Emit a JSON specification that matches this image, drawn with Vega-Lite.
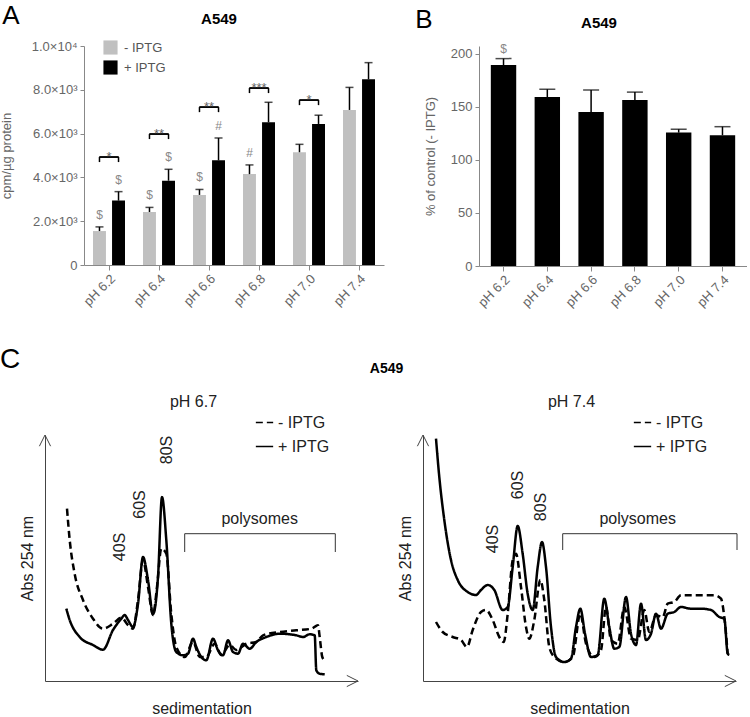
{
  "$schema": "https://vega.github.io/schema/vega-lite/v6.json",
  "padding": {"left": -20, "top": 3, "right": 0, "bottom": 0},
  "config": {
    "font": "Liberation Sans",
    "view": {"stroke": null},
    "axis": {"grid": false, "domainColor": "#888", "tickColor": "#888", "labelColor": "#666", "titleColor": "#666", "labelFont": "Liberation Sans", "titleFont": "Liberation Sans", "titleFontWeight": "normal"},
    "legend": {"labelFont": "Liberation Sans"},
    "title": {"font": "Liberation Sans", "color": "#000"}
  },
  "datasets": {
    "bars": [
      {"ph": "pH 6.2", "cond": "- IPTG", "value": 1550, "upper": 1740, "sig": "$"},
      {"ph": "pH 6.2", "cond": "+ IPTG", "value": 2940, "upper": 3350, "sig": "$"},
      {"ph": "pH 6.4", "cond": "- IPTG", "value": 2420, "upper": 2630, "sig": "$"},
      {"ph": "pH 6.4", "cond": "+ IPTG", "value": 3850, "upper": 4370, "sig": "$"},
      {"ph": "pH 6.6", "cond": "- IPTG", "value": 3200, "upper": 3450, "sig": "$"},
      {"ph": "pH 6.6", "cond": "+ IPTG", "value": 4780, "upper": 5800, "sig": "#"},
      {"ph": "pH 6.8", "cond": "- IPTG", "value": 4150, "upper": 4570, "sig": "#"},
      {"ph": "pH 6.8", "cond": "+ IPTG", "value": 6520, "upper": 7430, "sig": ""},
      {"ph": "pH 7.0", "cond": "- IPTG", "value": 5150, "upper": 5510, "sig": ""},
      {"ph": "pH 7.0", "cond": "+ IPTG", "value": 6440, "upper": 6840, "sig": ""},
      {"ph": "pH 7.4", "cond": "- IPTG", "value": 7080, "upper": 8110, "sig": ""},
      {"ph": "pH 7.4", "cond": "+ IPTG", "value": 8480, "upper": 9240, "sig": ""}
    ],
    "brk": [
      {"ph": "pH 6.2", "cond": "- IPTG", "y": 4930, "y2": 4700, "stars": "*"},
      {"ph": "pH 6.2", "cond": "+ IPTG", "y": 4930, "y2": 4700, "stars": "*"},
      {"ph": "pH 6.4", "cond": "- IPTG", "y": 5980, "y2": 5750, "stars": "**"},
      {"ph": "pH 6.4", "cond": "+ IPTG", "y": 5980, "y2": 5750, "stars": "**"},
      {"ph": "pH 6.6", "cond": "- IPTG", "y": 7210, "y2": 6980, "stars": "**"},
      {"ph": "pH 6.6", "cond": "+ IPTG", "y": 7210, "y2": 6980, "stars": "**"},
      {"ph": "pH 6.8", "cond": "- IPTG", "y": 8080, "y2": 7850, "stars": "***"},
      {"ph": "pH 6.8", "cond": "+ IPTG", "y": 8080, "y2": 7850, "stars": "***"},
      {"ph": "pH 7.0", "cond": "- IPTG", "y": 7530, "y2": 7300, "stars": "*"},
      {"ph": "pH 7.0", "cond": "+ IPTG", "y": 7530, "y2": 7300, "stars": "*"}
    ],
    "pct": [
      {"ph": "pH 6.2", "value": 189.6, "upper": 195.6, "sig": "$"},
      {"ph": "pH 6.4", "value": 159.4, "upper": 166.7, "sig": ""},
      {"ph": "pH 6.6", "value": 145.3, "upper": 166, "sig": ""},
      {"ph": "pH 6.8", "value": 156.6, "upper": 164, "sig": ""},
      {"ph": "pH 7.0", "value": 125.8, "upper": 129, "sig": ""},
      {"ph": "pH 7.4", "value": 123.3, "upper": 131.4, "sig": ""}
    ],
    "prof": [
      {"panel": "pH 6.7", "series": "+ IPTG", "x": 21.3, "y": 72.3},
      {"panel": "pH 6.7", "series": "+ IPTG", "x": 24.7, "y": 61},
      {"panel": "pH 6.7", "series": "+ IPTG", "x": 34.7, "y": 44},
      {"panel": "pH 6.7", "series": "+ IPTG", "x": 48, "y": 36},
      {"panel": "pH 6.7", "series": "+ IPTG", "x": 58, "y": 31.3},
      {"panel": "pH 6.7", "series": "+ IPTG", "x": 68, "y": 51},
      {"panel": "pH 6.7", "series": "+ IPTG", "x": 76.3, "y": 62.3},
      {"panel": "pH 6.7", "series": "+ IPTG", "x": 79.7, "y": 66},
      {"panel": "pH 6.7", "series": "+ IPTG", "x": 83, "y": 61},
      {"panel": "pH 6.7", "series": "+ IPTG", "x": 88, "y": 54},
      {"panel": "pH 6.7", "series": "+ IPTG", "x": 93, "y": 77},
      {"panel": "pH 6.7", "series": "+ IPTG", "x": 98, "y": 124},
      {"panel": "pH 6.7", "series": "+ IPTG", "x": 103, "y": 101},
      {"panel": "pH 6.7", "series": "+ IPTG", "x": 108, "y": 67},
      {"panel": "pH 6.7", "series": "+ IPTG", "x": 113, "y": 104},
      {"panel": "pH 6.7", "series": "+ IPTG", "x": 117, "y": 184},
      {"panel": "pH 6.7", "series": "+ IPTG", "x": 121.3, "y": 141},
      {"panel": "pH 6.7", "series": "+ IPTG", "x": 126.3, "y": 57.3},
      {"panel": "pH 6.7", "series": "+ IPTG", "x": 131.3, "y": 29},
      {"panel": "pH 6.7", "series": "+ IPTG", "x": 138, "y": 25.7},
      {"panel": "pH 6.7", "series": "+ IPTG", "x": 143, "y": 27.3},
      {"panel": "pH 6.7", "series": "+ IPTG", "x": 148, "y": 42.3},
      {"panel": "pH 6.7", "series": "+ IPTG", "x": 151.3, "y": 34},
      {"panel": "pH 6.7", "series": "+ IPTG", "x": 156.3, "y": 24},
      {"panel": "pH 6.7", "series": "+ IPTG", "x": 161.3, "y": 20.7},
      {"panel": "pH 6.7", "series": "+ IPTG", "x": 168, "y": 42.3},
      {"panel": "pH 6.7", "series": "+ IPTG", "x": 173, "y": 30.7},
      {"panel": "pH 6.7", "series": "+ IPTG", "x": 178, "y": 25.7},
      {"panel": "pH 6.7", "series": "+ IPTG", "x": 183, "y": 40.7},
      {"panel": "pH 6.7", "series": "+ IPTG", "x": 188, "y": 29},
      {"panel": "pH 6.7", "series": "+ IPTG", "x": 193, "y": 27.3},
      {"panel": "pH 6.7", "series": "+ IPTG", "x": 198, "y": 37.3},
      {"panel": "pH 6.7", "series": "+ IPTG", "x": 204.7, "y": 32.3},
      {"panel": "pH 6.7", "series": "+ IPTG", "x": 211.3, "y": 39},
      {"panel": "pH 6.7", "series": "+ IPTG", "x": 221.3, "y": 44},
      {"panel": "pH 6.7", "series": "+ IPTG", "x": 234.7, "y": 47.3},
      {"panel": "pH 6.7", "series": "+ IPTG", "x": 251.3, "y": 45.7},
      {"panel": "pH 6.7", "series": "+ IPTG", "x": 258, "y": 44},
      {"panel": "pH 6.7", "series": "+ IPTG", "x": 264.7, "y": 46.7},
      {"panel": "pH 6.7", "series": "+ IPTG", "x": 269.7, "y": 45.7},
      {"panel": "pH 6.7", "series": "+ IPTG", "x": 271.3, "y": 10.7},
      {"panel": "pH 6.7", "series": "+ IPTG", "x": 274.7, "y": 7.3},
      {"panel": "pH 6.7", "series": "+ IPTG", "x": 279.7, "y": 6.7},
      {"panel": "pH 6.7", "series": "- IPTG", "x": 22, "y": 172.3},
      {"panel": "pH 6.7", "series": "- IPTG", "x": 24.7, "y": 141},
      {"panel": "pH 6.7", "series": "- IPTG", "x": 29.7, "y": 107},
      {"panel": "pH 6.7", "series": "- IPTG", "x": 38, "y": 81},
      {"panel": "pH 6.7", "series": "- IPTG", "x": 48, "y": 62.3},
      {"panel": "pH 6.7", "series": "- IPTG", "x": 58, "y": 52.3},
      {"panel": "pH 6.7", "series": "- IPTG", "x": 68, "y": 57.3},
      {"panel": "pH 6.7", "series": "- IPTG", "x": 76.3, "y": 63.3},
      {"panel": "pH 6.7", "series": "- IPTG", "x": 83, "y": 56},
      {"panel": "pH 6.7", "series": "- IPTG", "x": 88, "y": 52.3},
      {"panel": "pH 6.7", "series": "- IPTG", "x": 93, "y": 81},
      {"panel": "pH 6.7", "series": "- IPTG", "x": 98, "y": 121},
      {"panel": "pH 6.7", "series": "- IPTG", "x": 103, "y": 94},
      {"panel": "pH 6.7", "series": "- IPTG", "x": 108, "y": 66},
      {"panel": "pH 6.7", "series": "- IPTG", "x": 112, "y": 94},
      {"panel": "pH 6.7", "series": "- IPTG", "x": 116.3, "y": 132.3},
      {"panel": "pH 6.7", "series": "- IPTG", "x": 121.3, "y": 127.3},
      {"panel": "pH 6.7", "series": "- IPTG", "x": 126.3, "y": 67},
      {"panel": "pH 6.7", "series": "- IPTG", "x": 131.3, "y": 34},
      {"panel": "pH 6.7", "series": "- IPTG", "x": 139.7, "y": 24},
      {"panel": "pH 6.7", "series": "- IPTG", "x": 148, "y": 39},
      {"panel": "pH 6.7", "series": "- IPTG", "x": 154.7, "y": 24},
      {"panel": "pH 6.7", "series": "- IPTG", "x": 161.3, "y": 24},
      {"panel": "pH 6.7", "series": "- IPTG", "x": 169.7, "y": 37.3},
      {"panel": "pH 6.7", "series": "- IPTG", "x": 176.3, "y": 26},
      {"panel": "pH 6.7", "series": "- IPTG", "x": 184.7, "y": 36},
      {"panel": "pH 6.7", "series": "- IPTG", "x": 191.3, "y": 31},
      {"panel": "pH 6.7", "series": "- IPTG", "x": 201.3, "y": 37.3},
      {"panel": "pH 6.7", "series": "- IPTG", "x": 211.3, "y": 39},
      {"panel": "pH 6.7", "series": "- IPTG", "x": 218, "y": 45.7},
      {"panel": "pH 6.7", "series": "- IPTG", "x": 234.7, "y": 49},
      {"panel": "pH 6.7", "series": "- IPTG", "x": 251.3, "y": 50.7},
      {"panel": "pH 6.7", "series": "- IPTG", "x": 266.3, "y": 52.3},
      {"panel": "pH 6.7", "series": "- IPTG", "x": 273, "y": 55.7},
      {"panel": "pH 6.7", "series": "- IPTG", "x": 274.7, "y": 44},
      {"panel": "pH 6.7", "series": "- IPTG", "x": 277.3, "y": 24},
      {"panel": "pH 6.7", "series": "- IPTG", "x": 279.7, "y": 20.7},
      {"panel": "pH 7.4", "series": "+ IPTG", "x": 13, "y": 242.3},
      {"panel": "pH 7.4", "series": "+ IPTG", "x": 16.3, "y": 204},
      {"panel": "pH 7.4", "series": "+ IPTG", "x": 21.3, "y": 161},
      {"panel": "pH 7.4", "series": "+ IPTG", "x": 28, "y": 121},
      {"panel": "pH 7.4", "series": "+ IPTG", "x": 34.7, "y": 101},
      {"panel": "pH 7.4", "series": "+ IPTG", "x": 44.7, "y": 89},
      {"panel": "pH 7.4", "series": "+ IPTG", "x": 53, "y": 86},
      {"panel": "pH 7.4", "series": "+ IPTG", "x": 58, "y": 91},
      {"panel": "pH 7.4", "series": "+ IPTG", "x": 64.7, "y": 96},
      {"panel": "pH 7.4", "series": "+ IPTG", "x": 71.3, "y": 91},
      {"panel": "pH 7.4", "series": "+ IPTG", "x": 79.7, "y": 71},
      {"panel": "pH 7.4", "series": "+ IPTG", "x": 84.7, "y": 74},
      {"panel": "pH 7.4", "series": "+ IPTG", "x": 89.7, "y": 114},
      {"panel": "pH 7.4", "series": "+ IPTG", "x": 94.7, "y": 155},
      {"panel": "pH 7.4", "series": "+ IPTG", "x": 99.7, "y": 127},
      {"panel": "pH 7.4", "series": "+ IPTG", "x": 104.7, "y": 87},
      {"panel": "pH 7.4", "series": "+ IPTG", "x": 109.7, "y": 71},
      {"panel": "pH 7.4", "series": "+ IPTG", "x": 114.7, "y": 114},
      {"panel": "pH 7.4", "series": "+ IPTG", "x": 119, "y": 139},
      {"panel": "pH 7.4", "series": "+ IPTG", "x": 123, "y": 114},
      {"panel": "pH 7.4", "series": "+ IPTG", "x": 128, "y": 54},
      {"panel": "pH 7.4", "series": "+ IPTG", "x": 133, "y": 24},
      {"panel": "pH 7.4", "series": "+ IPTG", "x": 141.3, "y": 19},
      {"panel": "pH 7.4", "series": "+ IPTG", "x": 148, "y": 22.3},
      {"panel": "pH 7.4", "series": "+ IPTG", "x": 153, "y": 54},
      {"panel": "pH 7.4", "series": "+ IPTG", "x": 157.3, "y": 72.3},
      {"panel": "pH 7.4", "series": "+ IPTG", "x": 162, "y": 47.3},
      {"panel": "pH 7.4", "series": "+ IPTG", "x": 168, "y": 24},
      {"panel": "pH 7.4", "series": "+ IPTG", "x": 174.7, "y": 26},
      {"panel": "pH 7.4", "series": "+ IPTG", "x": 181.3, "y": 82.3},
      {"panel": "pH 7.4", "series": "+ IPTG", "x": 186.3, "y": 54},
      {"panel": "pH 7.4", "series": "+ IPTG", "x": 191.3, "y": 32.3},
      {"panel": "pH 7.4", "series": "+ IPTG", "x": 196.3, "y": 34},
      {"panel": "pH 7.4", "series": "+ IPTG", "x": 203, "y": 84},
      {"panel": "pH 7.4", "series": "+ IPTG", "x": 208, "y": 47.3},
      {"panel": "pH 7.4", "series": "+ IPTG", "x": 213, "y": 36},
      {"panel": "pH 7.4", "series": "+ IPTG", "x": 218, "y": 77.3},
      {"panel": "pH 7.4", "series": "+ IPTG", "x": 223, "y": 41},
      {"panel": "pH 7.4", "series": "+ IPTG", "x": 228, "y": 47.3},
      {"panel": "pH 7.4", "series": "+ IPTG", "x": 233, "y": 67.3},
      {"panel": "pH 7.4", "series": "+ IPTG", "x": 238, "y": 52.3},
      {"panel": "pH 7.4", "series": "+ IPTG", "x": 244.7, "y": 67.3},
      {"panel": "pH 7.4", "series": "+ IPTG", "x": 251.3, "y": 69},
      {"panel": "pH 7.4", "series": "+ IPTG", "x": 258, "y": 74},
      {"panel": "pH 7.4", "series": "+ IPTG", "x": 268, "y": 72.3},
      {"panel": "pH 7.4", "series": "+ IPTG", "x": 278, "y": 72.3},
      {"panel": "pH 7.4", "series": "+ IPTG", "x": 288, "y": 71},
      {"panel": "pH 7.4", "series": "+ IPTG", "x": 296.3, "y": 64},
      {"panel": "pH 7.4", "series": "+ IPTG", "x": 301.3, "y": 62.3},
      {"panel": "pH 7.4", "series": "+ IPTG", "x": 304.7, "y": 27.3},
      {"panel": "pH 7.4", "series": "+ IPTG", "x": 306.3, "y": 26},
      {"panel": "pH 7.4", "series": "- IPTG", "x": 13, "y": 59},
      {"panel": "pH 7.4", "series": "- IPTG", "x": 19.7, "y": 49},
      {"panel": "pH 7.4", "series": "- IPTG", "x": 29.7, "y": 44},
      {"panel": "pH 7.4", "series": "- IPTG", "x": 38, "y": 41},
      {"panel": "pH 7.4", "series": "- IPTG", "x": 44, "y": 34},
      {"panel": "pH 7.4", "series": "- IPTG", "x": 49.7, "y": 51},
      {"panel": "pH 7.4", "series": "- IPTG", "x": 58, "y": 69},
      {"panel": "pH 7.4", "series": "- IPTG", "x": 63, "y": 71},
      {"panel": "pH 7.4", "series": "- IPTG", "x": 69.7, "y": 61},
      {"panel": "pH 7.4", "series": "- IPTG", "x": 76.3, "y": 44},
      {"panel": "pH 7.4", "series": "- IPTG", "x": 80.7, "y": 39},
      {"panel": "pH 7.4", "series": "- IPTG", "x": 84.7, "y": 67.3},
      {"panel": "pH 7.4", "series": "- IPTG", "x": 89.7, "y": 121},
      {"panel": "pH 7.4", "series": "- IPTG", "x": 93, "y": 127.3},
      {"panel": "pH 7.4", "series": "- IPTG", "x": 98, "y": 94},
      {"panel": "pH 7.4", "series": "- IPTG", "x": 103, "y": 54},
      {"panel": "pH 7.4", "series": "- IPTG", "x": 106.3, "y": 42.3},
      {"panel": "pH 7.4", "series": "- IPTG", "x": 111.3, "y": 61},
      {"panel": "pH 7.4", "series": "- IPTG", "x": 117.3, "y": 101},
      {"panel": "pH 7.4", "series": "- IPTG", "x": 121.3, "y": 81},
      {"panel": "pH 7.4", "series": "- IPTG", "x": 126.3, "y": 34},
      {"panel": "pH 7.4", "series": "- IPTG", "x": 131.3, "y": 24},
      {"panel": "pH 7.4", "series": "- IPTG", "x": 141.3, "y": 19},
      {"panel": "pH 7.4", "series": "- IPTG", "x": 149.7, "y": 24},
      {"panel": "pH 7.4", "series": "- IPTG", "x": 157.3, "y": 67.3},
      {"panel": "pH 7.4", "series": "- IPTG", "x": 163, "y": 37.3},
      {"panel": "pH 7.4", "series": "- IPTG", "x": 171.3, "y": 24},
      {"panel": "pH 7.4", "series": "- IPTG", "x": 178, "y": 31},
      {"panel": "pH 7.4", "series": "- IPTG", "x": 183, "y": 74},
      {"panel": "pH 7.4", "series": "- IPTG", "x": 188, "y": 41},
      {"panel": "pH 7.4", "series": "- IPTG", "x": 194.7, "y": 37.3},
      {"panel": "pH 7.4", "series": "- IPTG", "x": 201.3, "y": 74},
      {"panel": "pH 7.4", "series": "- IPTG", "x": 208, "y": 42.3},
      {"panel": "pH 7.4", "series": "- IPTG", "x": 214.7, "y": 41},
      {"panel": "pH 7.4", "series": "- IPTG", "x": 221.3, "y": 71},
      {"panel": "pH 7.4", "series": "- IPTG", "x": 226.3, "y": 49},
      {"panel": "pH 7.4", "series": "- IPTG", "x": 233, "y": 65.7},
      {"panel": "pH 7.4", "series": "- IPTG", "x": 239.7, "y": 64},
      {"panel": "pH 7.4", "series": "- IPTG", "x": 244.7, "y": 77.3},
      {"panel": "pH 7.4", "series": "- IPTG", "x": 251.3, "y": 79},
      {"panel": "pH 7.4", "series": "- IPTG", "x": 258, "y": 85.7},
      {"panel": "pH 7.4", "series": "- IPTG", "x": 268, "y": 85.7},
      {"panel": "pH 7.4", "series": "- IPTG", "x": 281.3, "y": 85.7},
      {"panel": "pH 7.4", "series": "- IPTG", "x": 291.3, "y": 85.7},
      {"panel": "pH 7.4", "series": "- IPTG", "x": 298, "y": 82.3},
      {"panel": "pH 7.4", "series": "- IPTG", "x": 301.3, "y": 64},
      {"panel": "pH 7.4", "series": "- IPTG", "x": 304.7, "y": 27.3}
    ],
    "lbl": [
      {"panel": "pH 6.7", "kind": "peak", "x": 75, "y": 134, "label": "40S"},
      {"panel": "pH 6.7", "kind": "peak", "x": 95.3, "y": 176.5, "label": "60S"},
      {"panel": "pH 6.7", "kind": "peak", "x": 122, "y": 231, "label": "80S"},
      {"panel": "pH 6.7", "kind": "poly", "x": 214.7, "y": 162, "label": "polysomes"},
      {"panel": "pH 7.4", "kind": "peak", "x": 69.7, "y": 142, "label": "40S"},
      {"panel": "pH 7.4", "kind": "peak", "x": 94.7, "y": 196, "label": "60S"},
      {"panel": "pH 7.4", "kind": "peak", "x": 118, "y": 174, "label": "80S"},
      {"panel": "pH 7.4", "kind": "poly", "x": 214.7, "y": 162, "label": "polysomes"}
    ],
    "brkC": [
      {"panel": "pH 6.7", "x": 139.7, "x2": 290.3, "y": 147.3, "y2": 147.3},
      {"panel": "pH 6.7", "x": 139.7, "x2": 139.7, "y": 147.3, "y2": 129},
      {"panel": "pH 6.7", "x": 290.3, "x2": 290.3, "y": 147.3, "y2": 129},
      {"panel": "pH 7.4", "x": 139.7, "x2": 314, "y": 147.3, "y2": 147.3},
      {"panel": "pH 7.4", "x": 139.7, "x2": 139.7, "y": 147.3, "y2": 131},
      {"panel": "pH 7.4", "x": 314, "x2": 314, "y": 147.3, "y2": 131}
    ],
    "arrows": [
      {"dir": "x", "x": 313, "y": 0},
      {"dir": "y", "x": 0, "y": 246}
    ]
  },
  "resolve": {"scale": {"color": "independent", "strokeDash": "independent", "shape": "independent"}, "legend": {"color": "independent", "strokeDash": "independent"}},
  "vconcat": [
    {
      "spacing": 0,
      "resolve": {"scale": {"color": "independent"}, "legend": {"color": "independent"}},
      "hconcat": [
        {"width": 0, "height": 0, "data": {"values": [{}]}, "mark": {"type": "point", "opacity": 0, "size": 0}},
        {
          "spacing": 31,
          "resolve": {"scale": {"color": "independent"}, "legend": {"color": "independent"}},
          "hconcat": [
            {
              "title": {"text": "A", "anchor": "start", "fontSize": 26, "fontWeight": "normal", "offset": -17, "dx": 2},
              "resolve": {"scale": {"color": "independent"}, "legend": {"color": "independent"}},
              "vconcat": [
                {
                  "title": {"text": "A549", "fontSize": 15, "fontWeight": "bold", "offset": 13, "dx": -15},
                  "width": 300,
                  "height": 219,
                  "data": {"name": "bars"},
                  "layer": [
                    {
                      "mark": {"type": "bar"},
                      "encoding": {
                        "x": {"field": "ph", "type": "nominal", "scale": {"domain": ["pH 6.2", "pH 6.4", "pH 6.6", "pH 6.8", "pH 7.0", "pH 7.4"], "paddingInner": 0.36, "paddingOuter": 0.18}, "axis": {"title": null, "labelAngle": -45, "labelFontSize": 13, "tickSize": 5, "labelPadding": 2}},
                        "xOffset": {"field": "cond", "type": "nominal", "scale": {"domain": ["- IPTG", "+ IPTG"], "paddingInner": 0.32}},
                        "y": {"field": "value", "type": "quantitative", "scale": {"domain": [0, 10000], "nice": false}, "axis": {"values": [0, 2000, 4000, 6000, 8000, 10000], "labelExpr": "datum.value == 0 ? '0' : datum.value == 10000 ? '1.0×10⁴' : format(datum.value / 1000, '.1f') + '×10³'", "title": "cpm/µg protein", "labelFontSize": 13, "titleFontSize": 13, "titlePadding": 18, "tickSize": 4, "labelPadding": 3}},
                        "color": {"field": "cond", "type": "nominal", "scale": {"domain": ["- IPTG", "+ IPTG"], "range": ["#c0c0c0", "#000000"]}, "legend": {"orient": "none", "legendX": 19, "legendY": -6, "title": null, "symbolType": "square", "symbolSize": 200, "symbolStrokeWidth": 0, "labelFontSize": 13, "labelColor": "#555", "rowPadding": 5, "labelOffset": 6, "padding": 0}}
                      }
                    },
                    {
                      "mark": {"type": "rule", "color": "#000", "strokeWidth": 1.5},
                      "encoding": {
                        "x": {"field": "ph", "type": "nominal"},
                        "xOffset": {"field": "cond", "type": "nominal", "scale": {"domain": ["- IPTG", "+ IPTG"], "paddingInner": 0.32}},
                        "y": {"field": "value", "type": "quantitative"},
                        "y2": {"field": "upper"}
                      }
                    },
                    {
                      "mark": {"type": "tick", "orient": "horizontal", "color": "#000", "thickness": 1.5, "size": 8},
                      "encoding": {
                        "x": {"field": "ph", "type": "nominal"},
                        "xOffset": {"field": "cond", "type": "nominal", "scale": {"domain": ["- IPTG", "+ IPTG"], "paddingInner": 0.32}},
                        "y": {"field": "upper", "type": "quantitative"}
                      }
                    },
                    {
                      "transform": [{"filter": "datum.sig != ''"}],
                      "mark": {"type": "text", "baseline": "alphabetic", "dy": -8, "fontSize": 12, "color": "#888"},
                      "encoding": {
                        "x": {"field": "ph", "type": "nominal"},
                        "xOffset": {"field": "cond", "type": "nominal", "scale": {"domain": ["- IPTG", "+ IPTG"], "paddingInner": 0.32}},
                        "y": {"field": "upper", "type": "quantitative"},
                        "text": {"field": "sig"}
                      }
                    },
                    {
                      "data": {"name": "brk"},
                      "mark": {"type": "rule", "color": "#000", "strokeWidth": 1.5},
                      "encoding": {
                        "x": {"field": "ph", "type": "nominal", "bandPosition": 0.2},
                        "x2": {"field": "ph", "bandPosition": 0.8},
                        "y": {"field": "y", "type": "quantitative"}
                      }
                    },
                    {
                      "data": {"name": "brk"},
                      "mark": {"type": "rule", "color": "#000", "strokeWidth": 1.5},
                      "encoding": {
                        "x": {"field": "ph", "type": "nominal"},
                        "xOffset": {"field": "cond", "type": "nominal", "scale": {"domain": ["- IPTG", "+ IPTG"], "paddingInner": 0.32}},
                        "y": {"field": "y", "type": "quantitative"},
                        "y2": {"field": "y2"}
                      }
                    },
                    {
                      "data": {"name": "brk"},
                      "transform": [{"filter": "datum.cond == '- IPTG'"}],
                      "mark": {"type": "text", "baseline": "alphabetic", "dy": 4, "fontSize": 13, "color": "#666"},
                      "encoding": {
                        "x": {"field": "ph", "type": "nominal"},
                        "y": {"field": "y", "type": "quantitative"},
                        "text": {"field": "stars"}
                      }
                    }
                  ]
                }
              ]
            },
            {
              "title": {"text": "B", "anchor": "start", "fontSize": 26, "fontWeight": "normal", "offset": -17, "dx": -9},
              "vconcat": [
                {
                  "title": {"text": "A549", "fontSize": 15, "fontWeight": "bold", "offset": 12, "dx": -14},
                  "width": 268,
                  "height": 220,
                  "data": {"name": "pct"},
                  "encoding": {
                    "x": {"field": "ph", "type": "nominal", "scale": {"domain": ["pH 6.2", "pH 6.4", "pH 6.6", "pH 6.8", "pH 7.0", "pH 7.4"], "paddingInner": 0.42, "paddingOuter": 0.27}, "axis": {"title": null, "labelAngle": -45, "labelFontSize": 13, "tickSize": 5, "labelPadding": 2}}
                  },
                  "layer": [
                    {
                      "mark": {"type": "bar", "color": "#000"},
                      "encoding": {
                        "y": {"field": "value", "type": "quantitative", "scale": {"domain": [0, 207.5], "nice": false}, "axis": {"values": [0, 50, 100, 150, 200], "title": "% of control (- IPTG)", "labelFontSize": 13, "titleFontSize": 13, "titlePadding": 13, "tickSize": 4, "labelPadding": 3}}
                      }
                    },
                    {
                      "mark": {"type": "rule", "color": "#000", "strokeWidth": 1.5},
                      "encoding": {
                        "y": {"field": "value", "type": "quantitative"},
                        "y2": {"field": "upper"}
                      }
                    },
                    {
                      "mark": {"type": "tick", "orient": "horizontal", "color": "#000", "thickness": 1.5, "size": 16},
                      "encoding": {
                        "y": {"field": "upper", "type": "quantitative"}
                      }
                    },
                    {
                      "transform": [{"filter": "datum.sig != ''"}],
                      "mark": {"type": "text", "baseline": "alphabetic", "dy": -6, "fontSize": 12, "color": "#888"},
                      "encoding": {
                        "y": {"field": "upper", "type": "quantitative"},
                        "text": {"field": "sig"}
                      }
                    }
                  ]
                }
              ]
            }
          ]
        }
      ]
    },
    {
      "spacing": 0,
      "resolve": {"scale": {"strokeDash": "independent", "shape": "independent"}, "legend": {"strokeDash": "independent"}},
      "hconcat": [
        {"width": 0, "height": 0, "data": {"values": [{}]}, "mark": {"type": "point", "opacity": 0, "size": 0}},
        {
          "title": {"text": "C", "anchor": "start", "fontSize": 28, "fontWeight": "normal", "offset": -12, "dx": -19},
          "resolve": {"scale": {"strokeDash": "independent", "shape": "independent"}, "legend": {"strokeDash": "independent"}},
          "vconcat": [
            {
              "title": {"text": "A549", "anchor": "middle", "fontSize": 14, "fontWeight": "bold", "offset": 18, "dx": 8},
              "spacing": 37,
              "resolve": {"scale": {"strokeDash": "independent", "shape": "independent"}, "legend": {"strokeDash": "independent"}},
              "hconcat": [
                {
                  "title": {"text": "pH 6.7", "fontSize": 16, "fontWeight": "normal", "color": "#222", "offset": 3, "dx": -8},
                  "width": 313,
                  "height": 246,
                  "layer": [
                    {
                      "data": {"name": "prof"},
                      "transform": [{"filter": "datum.panel == 'pH 6.7'"}],
                      "mark": {"type": "line", "strokeWidth": 2.5, "color": "#000", "interpolate": "monotone"},
                      "encoding": {
                        "x": {"field": "x", "type": "quantitative", "scale": {"domain": [0, 313], "nice": false, "zero": false}, "axis": {"title": "sedimentation", "labels": false, "ticks": false, "domainColor": "#444", "titleFontSize": 16, "titleColor": "#222", "titlePadding": 19}},
                        "y": {"field": "y", "type": "quantitative", "scale": {"domain": [0, 246], "nice": false, "zero": false}, "axis": {"title": "Abs 254 nm", "labels": false, "ticks": false, "domainColor": "#444", "titleFontSize": 16, "titleColor": "#222", "titlePadding": 10}},
                        "strokeDash": {"field": "series", "type": "nominal", "scale": {"domain": ["- IPTG", "+ IPTG"], "range": [[7, 4], [1, 0]]}, "legend": {"orient": "none", "legendX": 210, "legendY": -22, "title": null, "symbolType": "stroke", "symbolStrokeWidth": 1.5, "symbolSize": 300, "symbolStrokeColor": "#000", "labelFontSize": 16, "labelColor": "#222", "rowPadding": 6, "padding": 0}}
                      }
                    },
                    {
                      "data": {"name": "lbl"},
                      "transform": [{"filter": "datum.panel == 'pH 6.7' && datum.kind == 'peak'"}],
                      "mark": {"type": "text", "angle": 270, "fontSize": 16, "color": "#222", "baseline": "middle", "align": "center"},
                      "encoding": {"x": {"field": "x", "type": "quantitative"}, "y": {"field": "y", "type": "quantitative"}, "text": {"field": "label"}}
                    },
                    {
                      "data": {"name": "lbl"},
                      "transform": [{"filter": "datum.panel == 'pH 6.7' && datum.kind == 'poly'"}],
                      "mark": {"type": "text", "fontSize": 16, "color": "#222", "baseline": "middle", "align": "center"},
                      "encoding": {"x": {"field": "x", "type": "quantitative"}, "y": {"field": "y", "type": "quantitative"}, "text": {"field": "label"}}
                    },
                    {
                      "data": {"name": "brkC"},
                      "transform": [{"filter": "datum.panel == 'pH 6.7'"}],
                      "mark": {"type": "rule", "color": "#333", "strokeWidth": 1},
                      "encoding": {"x": {"field": "x", "type": "quantitative"}, "x2": {"field": "x2"}, "y": {"field": "y", "type": "quantitative"}, "y2": {"field": "y2"}}
                    },
                    {
                      "data": {"name": "arrows"},
                      "mark": {"type": "point", "filled": false, "size": 196, "stroke": "#444", "strokeWidth": 1, "opacity": 1},
                      "encoding": {"x": {"field": "x", "type": "quantitative"}, "y": {"field": "y", "type": "quantitative"}, "shape": {"field": "dir", "type": "nominal", "scale": {"domain": ["x", "y"], "range": ["M-1.6,-0.8L0,0L-1.6,0.8", "M-0.8,1.6L0,0L0.8,1.6"]}, "legend": null}}
                    }
                  ]
                },
                {
                  "title": {"text": "pH 7.4", "fontSize": 16, "fontWeight": "normal", "color": "#222", "offset": 3, "dx": -8},
                  "width": 313,
                  "height": 246,
                  "layer": [
                    {
                      "data": {"name": "prof"},
                      "transform": [{"filter": "datum.panel == 'pH 7.4'"}],
                      "mark": {"type": "line", "strokeWidth": 2.5, "color": "#000", "interpolate": "monotone"},
                      "encoding": {
                        "x": {"field": "x", "type": "quantitative", "scale": {"domain": [0, 313], "nice": false, "zero": false}, "axis": {"title": "sedimentation", "labels": false, "ticks": false, "domainColor": "#444", "titleFontSize": 16, "titleColor": "#222", "titlePadding": 19}},
                        "y": {"field": "y", "type": "quantitative", "scale": {"domain": [0, 246], "nice": false, "zero": false}, "axis": {"title": "Abs 254 nm", "labels": false, "ticks": false, "domainColor": "#444", "titleFontSize": 16, "titleColor": "#222", "titlePadding": 10}},
                        "strokeDash": {"field": "series", "type": "nominal", "scale": {"domain": ["- IPTG", "+ IPTG"], "range": [[7, 4], [1, 0]]}, "legend": {"orient": "none", "legendX": 210, "legendY": -22, "title": null, "symbolType": "stroke", "symbolStrokeWidth": 1.5, "symbolSize": 300, "symbolStrokeColor": "#000", "labelFontSize": 16, "labelColor": "#222", "rowPadding": 6, "padding": 0}}
                      }
                    },
                    {
                      "data": {"name": "lbl"},
                      "transform": [{"filter": "datum.panel == 'pH 7.4' && datum.kind == 'peak'"}],
                      "mark": {"type": "text", "angle": 270, "fontSize": 16, "color": "#222", "baseline": "middle", "align": "center"},
                      "encoding": {"x": {"field": "x", "type": "quantitative"}, "y": {"field": "y", "type": "quantitative"}, "text": {"field": "label"}}
                    },
                    {
                      "data": {"name": "lbl"},
                      "transform": [{"filter": "datum.panel == 'pH 7.4' && datum.kind == 'poly'"}],
                      "mark": {"type": "text", "fontSize": 16, "color": "#222", "baseline": "middle", "align": "center"},
                      "encoding": {"x": {"field": "x", "type": "quantitative"}, "y": {"field": "y", "type": "quantitative"}, "text": {"field": "label"}}
                    },
                    {
                      "data": {"name": "brkC"},
                      "transform": [{"filter": "datum.panel == 'pH 7.4'"}],
                      "mark": {"type": "rule", "color": "#333", "strokeWidth": 1},
                      "encoding": {"x": {"field": "x", "type": "quantitative"}, "x2": {"field": "x2"}, "y": {"field": "y", "type": "quantitative"}, "y2": {"field": "y2"}}
                    },
                    {
                      "data": {"name": "arrows"},
                      "mark": {"type": "point", "filled": false, "size": 196, "stroke": "#444", "strokeWidth": 1, "opacity": 1},
                      "encoding": {"x": {"field": "x", "type": "quantitative"}, "y": {"field": "y", "type": "quantitative"}, "shape": {"field": "dir", "type": "nominal", "scale": {"domain": ["x", "y"], "range": ["M-1.6,-0.8L0,0L-1.6,0.8", "M-0.8,1.6L0,0L0.8,1.6"]}, "legend": null}}
                    }
                  ]
                }
              ]
            }
          ]
        }
      ]
    }
  ],
  "spacing": 36
}
